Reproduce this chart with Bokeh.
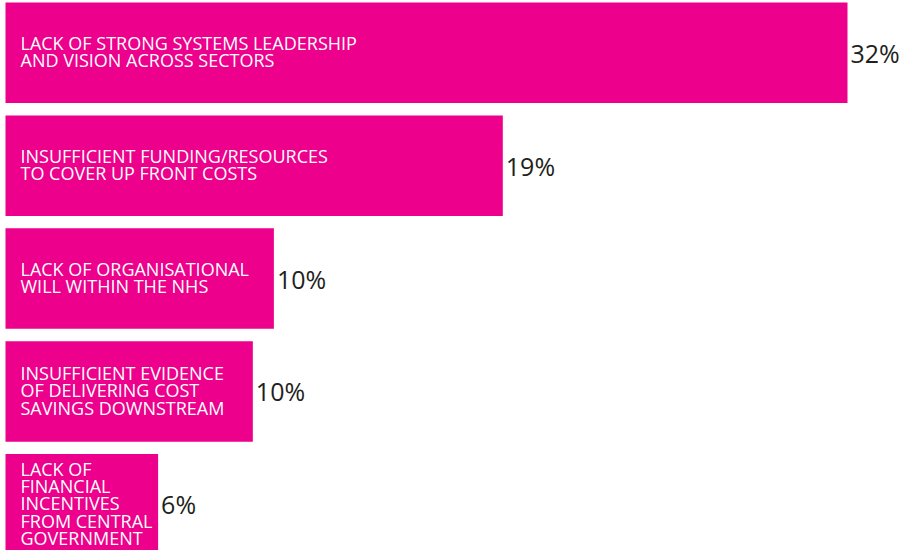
from bokeh.plotting import figure
from bokeh.models import ColumnDataSource, Range1d
from bokeh.core.properties import value
from bokeh.embed import file_html
from bokeh.resources import INLINE

categories = [
    "LACK OF STRONG SYSTEMS LEADERSHIP\nAND VISION ACROSS SECTORS",
    "INSUFFICIENT FUNDING/RESOURCES\nTO COVER UP FRONT COSTS",
    "LACK OF ORGANISATIONAL\nWILL WITHIN THE NHS",
    "INSUFFICIENT EVIDENCE\nOF DELIVERING COST\nSAVINGS DOWNSTREAM",
    "LACK OF\nFINANCIAL\nINCENTIVES\nFROM CENTRAL\nGOVERNMENT",
]
values = [32.0, 18.9, 10.2, 9.4, 5.8]
value_labels = ["32%", "19%", "10%", "10%", "6%"]

positions = list(range(len(categories)))
src = ColumnDataSource(dict(y=positions, v=values, cat=categories, lab=value_labels,
                            zero=[0] * len(values)))

W, H = 907, 550
p = figure(width=W, height=H, output_backend="svg", toolbar_location=None,
           x_range=Range1d(-0.19, 34.28), y_range=Range1d(4.4088, -0.4628),
           min_border=0, min_border_left=0, min_border_right=0,
           min_border_top=0, min_border_bottom=0)
p.axis.visible = False
p.grid.visible = False
p.outline_line_color = None
p.background_fill_color = "white"
p.border_fill_color = "white"

p.hbar(y="y", left="zero", right="v", height=0.89, source=src,
       fill_color="#EC008C", line_color=None)

p.text(x="zero", y="y", text="cat", source=src, x_offset=15, y_offset=-1,
       text_font=value("Open Sans"), text_font_size="18px", text_color="white",
       text_align="left", text_baseline="middle", text_line_height=0.72)

p.text(x="v", y="y", text="lab", source=src, x_offset=3, y_offset=0,
       text_font=value("Open Sans"), text_font_size="25px", text_color="#231F20",
       text_align="left", text_baseline="middle")

template = """{% block preamble %}<style>html, body { margin: 0; padding: 0; overflow: hidden; }</style>{% endblock %}
"""

open("out.html", "w").write(file_html(p, INLINE, template=template))
